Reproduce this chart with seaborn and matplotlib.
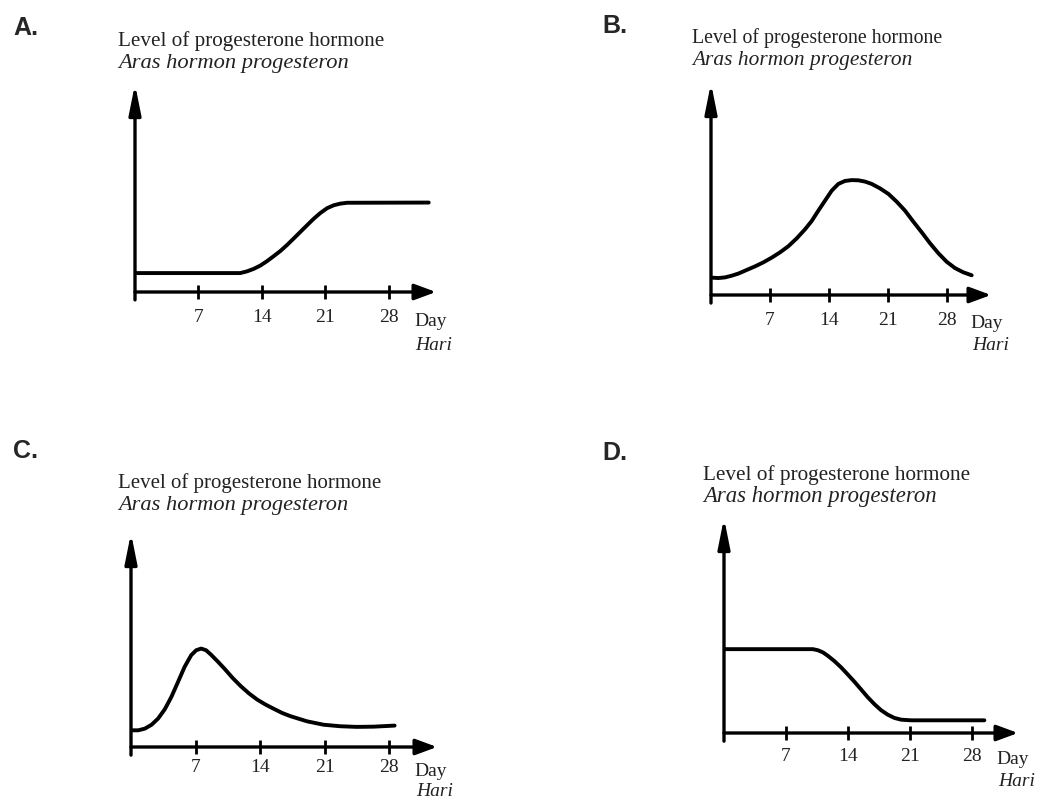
import numpy as np
import pandas as pd
import matplotlib
matplotlib.use('Agg')
import matplotlib.pyplot as plt
import seaborn as sns

W, H = 1043, 802

# Hormone level (0 = day axis, 10 = tip of the level arrow)
days_a = [0, 11.6, 12.34, 13.08, 13.82, 14.55, 15.29, 16.03, 16.77, 17.5, 18.24, 18.98,
          19.71, 20.45, 21.19, 21.92, 22.66, 23.4, 32.4]
level_a = [0.91, 0.91, 0.99, 1.11, 1.27, 1.48, 1.72, 1.97, 2.26, 2.57, 2.89, 3.21,
           3.52, 3.8, 4.03, 4.17, 4.25, 4.29, 4.3]

days_b = [0, 0.87, 1.66, 2.45, 3.24, 4.23, 5.22, 6.21, 7.19, 8.18, 9.17, 10.16, 11.15,
          11.94, 12.73, 13.52, 14.31, 15.1, 15.89, 16.68, 17.47, 18.26, 19.05, 20.04,
          21.03, 22.02, 23.0, 23.99, 24.98, 25.97, 26.96, 27.94, 28.93, 29.92, 30.91]
level_b = [0.82, 0.8, 0.83, 0.91, 1.01, 1.18, 1.35, 1.54, 1.76, 2.01, 2.3, 2.67, 3.1,
           3.49, 3.98, 4.45, 4.92, 5.24, 5.38, 5.42, 5.41, 5.35, 5.24, 5.03,
           4.77, 4.4, 3.98, 3.46, 2.96, 2.44, 1.97, 1.57, 1.27, 1.07, 0.93]

days_c = [0, 0.79, 1.51, 2.23, 2.94, 3.66, 4.38, 5.1, 5.81, 6.53, 7.07, 7.61, 8.15, 8.69,
          9.4, 10.12, 11.02, 11.92, 12.81, 13.71, 14.61, 15.51, 16.4, 17.3, 19.1, 20.9,
          22.7, 24.5, 26.3, 28.6]
level_c = [0.78, 0.78, 0.86, 1.04, 1.33, 1.76, 2.34, 3.04, 3.74, 4.29, 4.52, 4.6, 4.52, 4.31,
           4.0, 3.67, 3.23, 2.84, 2.5, 2.21, 1.98, 1.78, 1.59, 1.44, 1.2, 1.04,
           0.97, 0.94, 0.95, 1.0]

days_d = [0, 10.04, 10.6, 11.17, 11.73, 12.48, 13.23, 13.98, 14.74, 15.49, 16.24, 16.99,
          17.74, 18.5, 19.25, 20.0, 21.13, 29.4]
level_d = [3.9, 3.9, 3.85, 3.75, 3.59, 3.34, 3.05, 2.72, 2.38, 2.02, 1.66, 1.34,
           1.06, 0.85, 0.7, 0.62, 0.59, 0.59]

tick_days = [7, 14, 21, 28]
tick_labels = ['7', '14', '21', '28']
panel_letters = ['A.', 'B.', 'C.', 'D.']
title_en = 'Level of progesterone hormone'
title_ms = 'Aras hormon progesteron'
xlabel_en = 'Day'
xlabel_ms = 'Hari'

XMAX = 33.2
YMAX = 10.0

# pixel layout per panel
layout = [
    dict(x0=135, x1=436, ybot=292, ytop=84, tx=118, tby=46, lx=13, lby=35,
         pad=7, day_off=29, hari_off=54, fs_en=15.2, fs_ms=16.2),
    dict(x0=711, x1=991, ybot=295, ytop=83, tx=692, tby=43, lx=602, lby=33,
         pad=7, day_off=28, hari_off=51, fs_en=14.3, fs_ms=15.4),
    dict(x0=131, x1=437, ybot=747, ytop=533, tx=118, tby=488, lx=13, lby=458,
         pad=4, day_off=24, hari_off=44, fs_en=15.0, fs_ms=16.1),
    dict(x0=724, x1=1018, ybot=733, ytop=518, tx=703, tby=480, lx=602, lby=460,
         pad=6, day_off=27, hari_off=49, fs_en=15.3, fs_ms=16.4),
]


def px_rect(g):
    return [g['x0'] / W, 1 - g['ybot'] / H, (g['x1'] - g['x0']) / W, (g['ybot'] - g['ytop']) / H]


def draw_arrows(ax):
    head_x = '-|>,head_length=0.65,head_width=0.24'
    head_y = '-|>,head_length=0.9,head_width=0.18'
    ax.annotate('', xy=(XMAX, 0), xytext=(0, 0), annotation_clip=False,
                arrowprops=dict(arrowstyle=head_x, lw=2.4, color='black',
                                mutation_scale=20, shrinkA=0, shrinkB=0))
    ax.annotate('', xy=(0, YMAX), xytext=(0, -0.38), annotation_clip=False,
                arrowprops=dict(arrowstyle=head_y, lw=2.4, color='black',
                                mutation_scale=20, shrinkA=0, shrinkB=0))


def plot_panel(fig, days, levels, letter, g):
    ax = fig.add_axes(px_rect(g))
    ax.patch.set_alpha(0)
    sns.lineplot(x=days, y=levels, ax=ax, color='black', linewidth=2.8, sort=False,
                 solid_joinstyle='round', solid_capstyle='round')
    ax.set_xlim(0, XMAX)
    ax.set_ylim(0, YMAX)
    for s in ax.spines.values():
        s.set_visible(False)
    ax.set_xticks(tick_days)
    ax.set_xticklabels(tick_labels)
    ax.set_yticks([])
    ax.tick_params(axis='x', bottom=True, direction='inout', length=10, width=2,
                   pad=g['pad'], labelsize=14, colors='black', labelcolor='#222222')
    ax.set_xlabel('')
    ax.set_ylabel('')
    draw_arrows(ax)

    ax.annotate(xlabel_en, xy=(30.8, 0), xytext=(0, -g['day_off']), textcoords='offset pixels',
                ha='left', va='center', fontsize=14, color='#222222', annotation_clip=False)
    ax.annotate(xlabel_ms, xy=(30.8, 0), xytext=(1, -g['hari_off']), textcoords='offset pixels',
                ha='left', va='center', fontsize=14, style='italic', color='#222222',
                annotation_clip=False)

    fig.text(g['tx'] / W, 1 - g['tby'] / H, title_en, fontsize=g['fs_en'],
             color='#222222', va='baseline')
    fig.text(g['tx'] / W, 1 - (g['tby'] + 22) / H, title_ms, fontsize=g['fs_ms'],
             style='italic', color='#222222', va='baseline')
    fig.text(g['lx'] / W, 1 - g['lby'] / H, letter, fontsize=18, fontweight='bold',
             family='Liberation Sans', va='baseline')


sns.set_style('white')
plt.rcParams['font.family'] = ['Liberation Serif', 'DejaVu Serif']

fig = plt.figure(figsize=(W / 100, H / 100), dpi=100)
fig.patch.set_facecolor('white')

all_days = [days_a, days_b, days_c, days_d]
all_levels = [level_a, level_b, level_c, level_d]
for days, levels, letter, g in zip(all_days, all_levels, panel_letters, layout):
    plot_panel(fig, days, levels, letter, g)

fig.savefig('out.png', dpi=100)
plt.close(fig)
